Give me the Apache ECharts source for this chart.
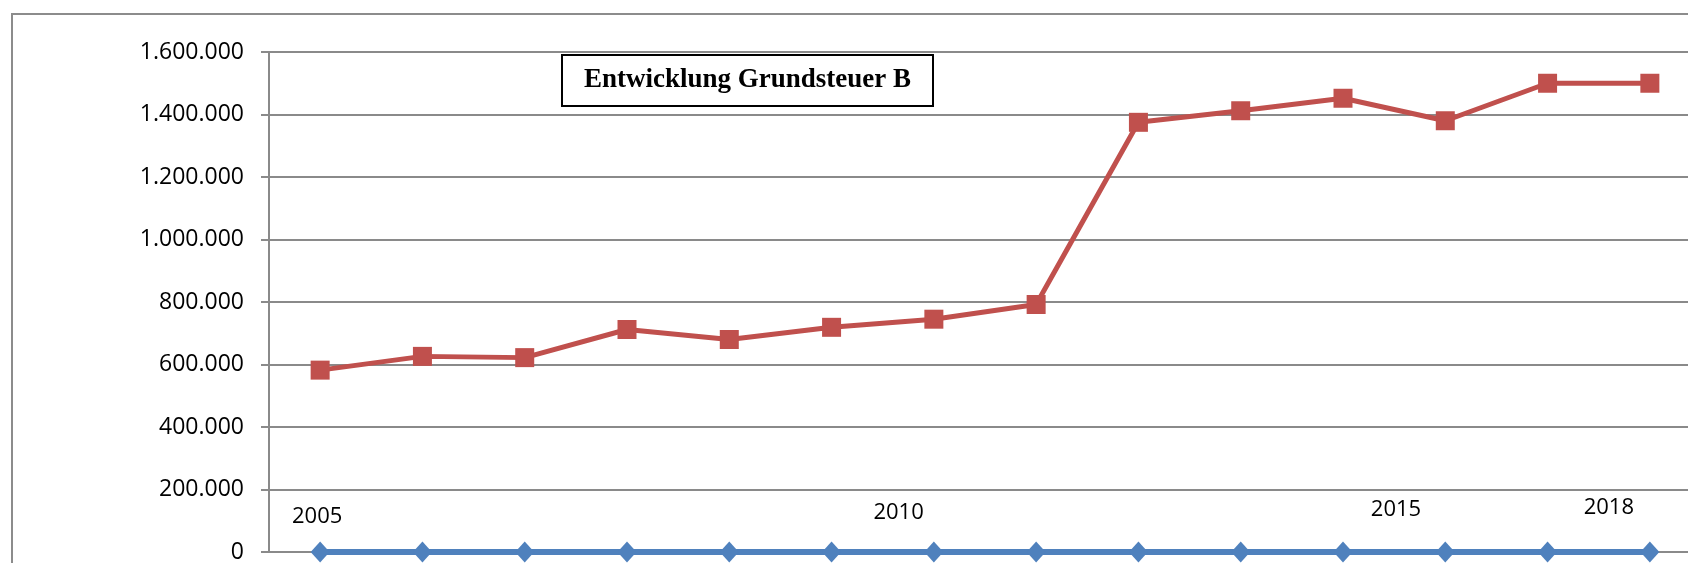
<!DOCTYPE html>
<html>
<head>
<meta charset="utf-8">
<script src="https://cdn.jsdelivr.net/npm/echarts@6/dist/echarts.min.js"></script>
<style>
html, body {
  margin: 0;
  padding: 0;
  background: #fff;
  overflow: hidden;
}
.frame {
  position: absolute;
  left: 11px;
  top: 13px;
  width: 1720px;
  height: 600px;
  border: 2px solid #8c8c8c;
}
#myCharts {
  position: absolute;
  left: 0;
  top: 0;
  width: 1688px;
  height: 563px;
}
</style>
</head>
<body>
<div class="frame"></div>
<div id="myCharts"></div>
<script>
// Jahre (Kategorien)
const years = ['2005', '2006', '2007', '2008', '2009', '2010', '2011', '2012',
  '2013', '2014', '2015', '2016', '2017', '2018']
// Grundsteuer B in Euro
const grundsteuerB = [582000, 626000, 622000, 712000, 680000, 719000, 745000, 792000,
  1375000, 1412000, 1452000, 1380000, 1500000, 1500000]
// Jahres-Reihe liegt auf 0
const jahrReihe = [0, 0, 0, 0, 0, 0, 0, 0, 0, 0, 0, 0, 0, 0]
// nur diese Jahre bekommen eine Beschriftung
const labeledYears = ['2005', '2010', '2015', '2018']

// verschobene Datenbeschriftungen wie im Original
const labelOffsets = {
  '2005': [-3, -35],
  '2010': [67, -39],
  '2015': [53, -42],
  '2018': [-41, -44]
}

const fmt = v => String(v).replace(/\B(?=(\d{3})+(?!\d))/g, '.')

const myCharts = echarts.init(document.getElementById('myCharts'))

const options = {
  animation: false,
  backgroundColor: 'transparent',
  title: {
    text: 'Entwicklung Grundsteuer B',
    left: 562,
    top: 55,
    padding: [12, 22, 12, 22],
    borderColor: '#000',
    borderWidth: 2,
    backgroundColor: '#fff',
    textStyle: {
      fontFamily: 'Liberation Serif',
      fontWeight: 'bold',
      fontSize: 27,
      color: '#000'
    }
  },
  grid: {
    left: 269,
    top: 52,
    height: 500,
    width: 1432,
    outerBoundsMode: 'none'
  },
  xAxis: [{
    type: 'category',
    boundaryGap: true,
    data: years,
    axisLine: { lineStyle: { color: '#8a8a8a', width: 2 } },
    axisTick: { show: false },
    axisLabel: { show: false },
    splitLine: { show: false }
  }],
  yAxis: [{
    type: 'value',
    min: 0,
    max: 1600000,
    interval: 200000,
    axisLine: { show: true, lineStyle: { color: '#8a8a8a', width: 2 } },
    axisTick: { show: true, length: 8, lineStyle: { color: '#8a8a8a', width: 2 } },
    axisLabel: {
      formatter: fmt,
      margin: 25,
      color: '#000',
      fontFamily: 'Open Sans',
      fontSize: 23
    },
    splitLine: { lineStyle: { color: '#8a8a8a', width: 2 } }
  }],
  series: [
    {
      name: 'Grundsteuer B',
      type: 'line',
      data: grundsteuerB,
      symbol: 'rect',
      symbolSize: 19,
      color: '#C0504D',
      lineStyle: { color: '#C0504D', width: 5 },
      itemStyle: { color: '#C0504D' },
      z: 3
    },
    {
      name: 'Jahr',
      type: 'line',
      data: jahrReihe.map((v, i) => {
        const y = years[i]
        if (labeledYears.indexOf(y) < 0) return v
        return {
          value: v,
          label: {
            show: true,
            position: 'inside',
            offset: labelOffsets[y],
            formatter: y
          }
        }
      }),
      symbol: 'diamond',
      symbolSize: [19, 21],
      color: '#4F81BD',
      lineStyle: { color: '#4F81BD', width: 6 },
      itemStyle: { color: '#4F81BD' },
      label: {
        color: '#000',
        fontFamily: 'Open Sans',
        fontSize: 22,
        align: 'center',
        verticalAlign: 'middle'
      },
      z: 4
    }
  ]
}

myCharts.setOption(options)
</script>
</body>
</html>
